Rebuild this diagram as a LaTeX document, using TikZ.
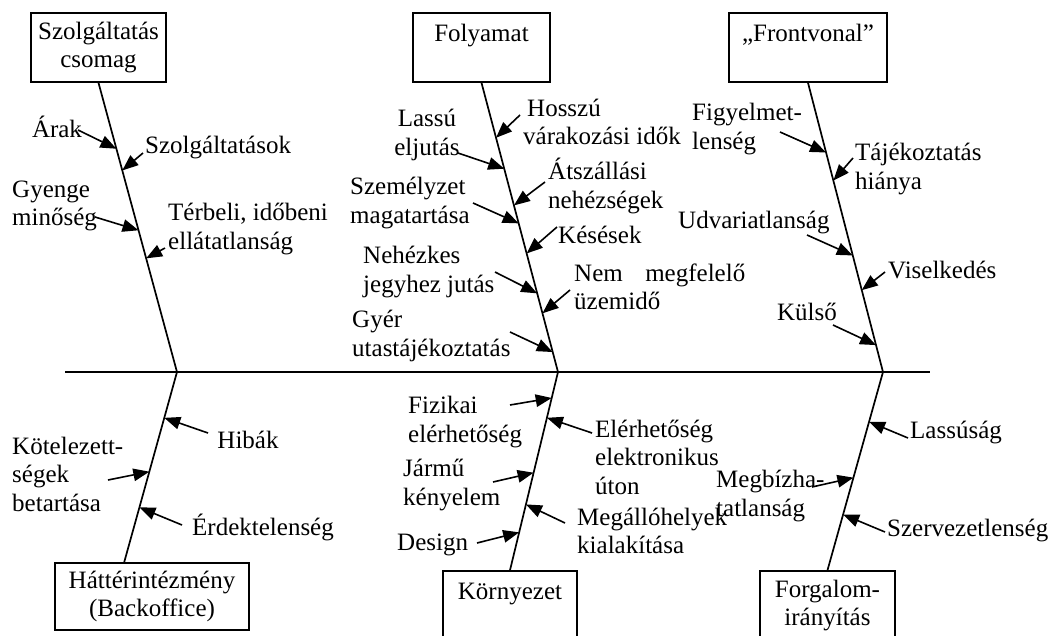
\documentclass[tikz,border=0pt]{standalone}
\usepackage{fontspec}
\setmainfont{Liberation Serif}
\usetikzlibrary{calc}
\usetikzlibrary{arrows.meta}
\tikzset{%
	% Specifications for style of nodes:
	category/.style = {rectangle, draw=black, line width=1.6pt, inner sep=0pt,
		minimum height=69pt, align=center},
	cause/.style = {inner sep=0pt, align=left},
	bone/.style = {line width=1.7pt},
	causeArrow/.style = {line width=1.6pt, -{Triangle[length=16pt, width=12.5pt]}},
}
\begin{document}
\begin{tikzpicture}[x=1pt, y=-1pt,
	every node/.style={font=\fontsize{25}{28.5}\selectfont}]
	\useasboundingbox (0,0) rectangle (1050,635);
	
	% spine
	\coordinate (spineL) at (65,372);
	\coordinate (spineR) at (930,372);
	\coordinate (j1) at (177,372);
	\coordinate (j2) at (558,372);
	\coordinate (j3) at (883,372);
	\draw[bone] (spineL) -- (spineR);
	
	% categories
	\node (szolg) [category, minimum width=135pt] at (98.5,47.5) {Szolgáltatás\\csomag};
	\node (folyamat) [category, minimum width=137pt] at (481.5,47.5) {Folyamat\\~};
	\node (front) [category, minimum width=158pt] at (808,47.5) {„Frontvonal”\\~};
	\node (hatter) [category, minimum width=194pt, minimum height=67pt] at (152,596.5) {Háttérintézmény\\(Backoffice)};
	\node (kornyezet) [category, minimum width=134pt] at (510,605.5) {Környezet\\~};
	\node (forgalom) [category, minimum width=135pt] at (827.5,605.5) {Forgalom-\\irányítás};
	\coordinate (hatterTop) at ($(hatter.north west)+(70,0)$);
	
	\draw[bone] (szolg.south) -- (j1);
	\draw[bone] (folyamat.south) -- (j2);
	\draw[bone] (front.south) -- (j3);
	\draw[bone] (j1) -- (hatterTop);
	\draw[bone] (j2) -- (kornyezet.north);
	\draw[bone] (j3) -- (forgalom.north);
	
	% Szolgáltatás csomag
	\node (arak) [cause, anchor=center] at (57,127) {Árak};
	\node (szolgaltatasok) [cause, anchor=west] at (145,148) {Szolgáltatások};
	\node (gyenge) [cause, anchor=west] at (12,206) {Gyenge\\minőség};
	\node (terbeli) [cause, anchor=west] at (168,229) {Térbeli, időbeni\\ellátatlanság};
	\coordinate (arakT) at (78,130);
	\coordinate (szolgaltatasokT) at (143,153);
	\coordinate (gyengeT) at (95,217);
	\coordinate (terbeliT) at (165,248);
	\draw[causeArrow] (arakT) -- ($(szolg.south)!0.228!(j1)$);
	\draw[causeArrow] (szolgaltatasokT) -- ($(szolg.south)!0.303!(j1)$);
	\draw[causeArrow] (gyengeT) -- ($(szolg.south)!0.510!(j1)$);
	\draw[causeArrow] (terbeliT) -- ($(szolg.south)!0.607!(j1)$);
	
	% Folyamat
	\node (hosszu) [cause, anchor=west] at (523,122) {\hspace{4pt}Hosszú\\várakozási idők};
	\node (lassu) [cause, align=center, anchor=center] at (427,135) {Lassú\\eljutás};
	\node (atszallasi) [cause, anchor=west] at (548,186) {Átszállási\\nehézségek};
	\node (szemelyzet) [cause, anchor=west] at (350,203) {Személyzet\\magatartása};
	\node (kesesek) [cause, anchor=west] at (558,235) {Késések};
	\node (nehezkes) [cause, anchor=west] at (363,272) {Nehézkes\\jegyhez jutás};
	\node (nem) [cause, anchor=west] at (574,287) {Nem\hspace{0.9em}megfelelő\\üzemidő};
	\node (gyer) [cause, anchor=west] at (352,336) {Gyér\\utastájékoztatás};
	\coordinate (hosszuT) at (520,115);
	\coordinate (lassuT) at (458,153);
	\coordinate (atszallasiT) at (545,182);
	\coordinate (szemelyzetT) at (473,203);
	\coordinate (kesesekT) at (557,227);
	\coordinate (nehezkesT) at (495,272);
	\coordinate (nemT) at (570,290);
	\coordinate (gyerT) at (510,332);
	\draw[causeArrow] (hosszuT) -- ($(folyamat.south)!0.190!(j2)$);
	\draw[causeArrow] (lassuT) -- ($(folyamat.south)!0.297!(j2)$);
	\draw[causeArrow] (atszallasiT) -- ($(folyamat.south)!0.424!(j2)$);
	\draw[causeArrow] (szemelyzetT) -- ($(folyamat.south)!0.486!(j2)$);
	\draw[causeArrow] (kesesekT) -- ($(folyamat.south)!0.590!(j2)$);
	\draw[causeArrow] (nehezkesT) -- ($(folyamat.south)!0.728!(j2)$);
	\draw[causeArrow] (nemT) -- ($(folyamat.south)!0.797!(j2)$);
	\draw[causeArrow] (gyerT) -- ($(folyamat.south)!0.931!(j2)$);
	
	% Frontvonal
	\node (figyelmet) [cause, anchor=west] at (692,129) {Figyelmet-\\lenség};
	\node (tajekoztatas) [cause, anchor=west] at (855,169) {Tájékoztatás\\hiánya};
	\node (udvariatlansag) [cause, anchor=west] at (678,223) {Udvariatlanság};
	\node (viselkedes) [cause, anchor=west] at (888,270) {Viselkedés};
	\node (kulso) [cause, anchor=center] at (807,312) {Külső};
	\coordinate (figyelmetT) at (780,132);
	\coordinate (tajekoztatasT) at (853,158);
	\coordinate (udvariatlansagT) at (807,235);
	\coordinate (viselkedesT) at (885,272);
	\coordinate (kulsoT) at (833,325);
	\draw[causeArrow] (figyelmetT) -- ($(front.south)!0.241!(j3)$);
	\draw[causeArrow] (tajekoztatasT) -- ($(front.south)!0.338!(j3)$);
	\draw[causeArrow] (udvariatlansagT) -- ($(front.south)!0.597!(j3)$);
	\draw[causeArrow] (viselkedesT) -- ($(front.south)!0.717!(j3)$);
	\draw[causeArrow] (kulsoT) -- ($(front.south)!0.907!(j3)$);
	
	% Háttérintézmény
	\node (hibak) [cause, anchor=center] at (248,440) {Hibák};
	\node (kotelezett) [cause, anchor=west] at (12,474) {Kötelezett-\\ségek\\betartása};
	\node (erdektelenseg) [cause, anchor=west] at (192,527) {Érdektelenség};
	\coordinate (hibakT) at (208,433);
	\coordinate (kotelezettT) at (108,480);
	\coordinate (erdektelensegT) at (182,525);
	\draw[causeArrow] (hibakT) -- ($(j1)!0.241!(hatterTop)$);
	\draw[causeArrow] (kotelezettT) -- ($(j1)!0.524!(hatterTop)$);
	\draw[causeArrow] (erdektelensegT) -- ($(j1)!0.712!(hatterTop)$);
	
	% Környezet
	\node (fizikai) [cause, anchor=west] at (408,422) {Fizikai\\elérhetőség};
	\node (elerhetoseg) [cause, anchor=west] at (595,457) {Elérhetőség\\elektronikus\\úton};
	\node (jarmu) [cause, anchor=west] at (403,485) {Jármű\\kényelem};
	\node (megallo) [cause, anchor=west] at (577,531) {Megállóhelyek\\kialakítása};
	\node (design) [cause, anchor=west] at (397,545) {Design};
	\coordinate (fizikaiT) at (510,405);
	\coordinate (elerhetosegT) at (592,433);
	\coordinate (jarmuT) at (493,482);
	\coordinate (megalloT) at (565,523);
	\coordinate (designT) at (477,543);
	\draw[causeArrow] (fizikaiT) -- ($(j2)!0.131!(kornyezet.north)$);
	\draw[causeArrow] (elerhetosegT) -- ($(j2)!0.231!(kornyezet.north)$);
	\draw[causeArrow] (jarmuT) -- ($(j2)!0.508!(kornyezet.north)$);
	\draw[causeArrow] (megalloT) -- ($(j2)!0.668!(kornyezet.north)$);
	\draw[causeArrow] (designT) -- ($(j2)!0.809!(kornyezet.north)$);
	
	% Forgalomirányítás
	\node (lassusag) [cause, anchor=west] at (910,433) {Lassúság};
	\node (megbizha) [cause, anchor=west] at (716,496) {Megbízha-\\tatlanság};
	\node (szervezetlenseg) [cause, anchor=west] at (887,530) {Szervezetlenség};
	\coordinate (lassusagT) at (908,438);
	\coordinate (megbizhaT) at (812,487);
	\coordinate (szervezetlensegT) at (885,532);
	\draw[causeArrow] (lassusagT) -- ($(j3)!0.251!(forgalom.north)$);
	\draw[causeArrow] (megbizhaT) -- ($(j3)!0.533!(forgalom.north)$);
	\draw[causeArrow] (szervezetlensegT) -- ($(j3)!0.719!(forgalom.north)$);
\end{tikzpicture}
\end{document}
